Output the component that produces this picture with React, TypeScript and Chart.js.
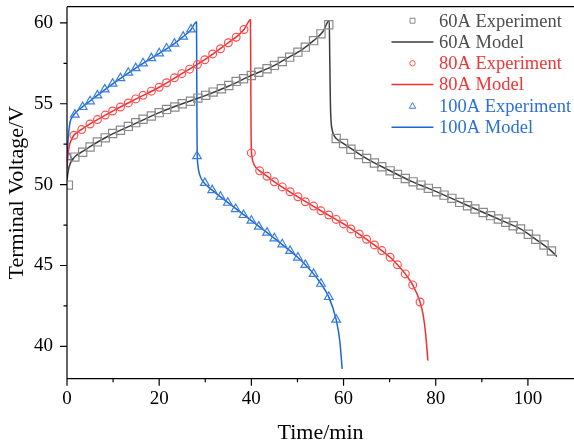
import { useEffect, useRef } from "react";
import { Chart, registerables } from "chart.js";

Chart.register(...registerables);

const FONT = "'Liberation Serif', 'Times New Roman', serif";

const X_TICKS = [0, 20, 40, 60, 80, 100];
const X_MINOR = [10, 30, 50, 70, 90];
const Y_TICKS = [40, 45, 50, 55, 60];
const Y_MINOR = [42.5, 47.5, 52.5, 57.5];

// 60A
const T60_EXP = [0.3, 1.7, 3.4, 5.0, 6.6, 8.3, 9.9, 11.6, 13.3, 14.9, 16.5, 18.3, 20.0, 21.6, 23.4, 25.0, 26.8, 28.4, 30.1, 31.7, 33.5, 35.1, 36.7, 38.3, 40.0, 41.6, 43.4, 45.0, 46.7, 48.3, 50.1, 51.7, 53.5, 55.1, 56.8,
  58.4, 60.0, 61.6, 63.3, 65.0, 66.7, 68.3, 70.1, 71.7, 73.4, 75.1, 76.8, 78.4, 80.2, 81.8, 83.5, 85.2, 86.9, 88.5, 90.3, 91.9, 93.6, 95.2, 96.8, 98.4, 100.1, 101.7, 103.5, 105.1];
const V60_EXP = [49.97, 51.7, 52.0, 52.33, 52.64, 52.89, 53.16, 53.36, 53.6, 53.83, 54.04, 54.24, 54.45, 54.65, 54.8, 55.0, 55.15, 55.35, 55.52, 55.72, 55.93, 56.13, 56.38, 56.55, 56.75, 56.95, 57.16, 57.37, 57.61, 57.88, 58.19, 58.5, 58.9, 59.32, 59.88,
  52.85, 52.54, 52.19, 51.86, 51.61, 51.34, 51.1, 50.85, 50.63, 50.38, 50.17, 49.97, 49.77, 49.56, 49.35, 49.15, 48.9, 48.69, 48.49, 48.28, 48.08, 47.87, 47.67, 47.46, 47.26, 46.93, 46.62, 46.27, 45.9];
const T60_MOD = [0, 0.3, 0.7, 1.2, 2.0, 3.4, 5, 8, 10, 15, 20, 25, 30, 35, 40, 45, 48, 51, 53.5, 55.5, 56.9, 57.0, 57.15, 57.3, 57.6, 58.0, 58.4, 60, 65, 70, 75, 80, 85, 90, 95, 98.4, 101.7, 105, 106.3];
const V60_MOD = [50.3, 50.9, 51.3, 51.55, 51.8, 52.05, 52.35, 52.85, 53.15, 53.8, 54.45, 55.0, 55.5, 56.08, 56.75, 57.37, 57.85, 58.35, 58.9, 59.45, 60.14, 58.0, 55.0, 53.9, 53.3, 53.0, 52.85, 52.54, 51.61, 50.87, 50.17, 49.58, 48.95, 48.32, 47.7, 47.26, 46.62, 45.92, 45.55];

// 80A
const T80_EXP = [1.5, 3.2, 5.0, 6.6, 8.3, 9.9, 11.6, 13.3, 14.9, 16.5, 18.3, 20.0, 21.6, 23.3, 24.9, 26.6, 28.3, 29.9, 31.6, 33.3, 35.0, 36.7, 38.4,
  40.0, 41.8, 43.4, 45.0, 46.7, 48.4, 50.1, 51.7, 53.5, 55.1, 56.8, 58.4, 60.0, 61.6, 63.4, 65.0, 66.7, 68.3, 70.1, 71.7, 73.4, 75.0, 76.6];
const V80_EXP = [53.05, 53.4, 53.75, 54.02, 54.3, 54.55, 54.8, 55.05, 55.3, 55.52, 55.78, 56.02, 56.3, 56.6, 56.86, 57.14, 57.42, 57.72, 58.08, 58.4, 58.77, 59.11, 59.59,
  51.96, 50.85, 50.52, 50.17, 49.86, 49.56, 49.25, 48.94, 48.67, 48.38, 48.12, 47.85, 47.57, 47.26, 46.95, 46.62, 46.27, 45.92, 45.51, 45.04, 44.48, 43.8, 42.74];
const T80_MOD = [0, 0.2, 0.5, 1.0, 1.5, 3, 5, 10, 15, 20, 25, 30, 35, 37, 38.5, 39.8, 39.85, 39.9, 39.95, 40.1, 40.5, 41.0, 41.8, 43.4, 45, 50, 55, 60, 65, 68.3, 70.1, 71.7, 73.4, 75, 76.6, 77.3, 77.8, 78.3];
const V80_MOD = [51.0, 51.8, 52.4, 52.8, 53.05, 53.38, 53.75, 54.56, 55.3, 56.02, 56.88, 57.74, 58.77, 59.2, 59.62, 60.2, 58.0, 55.0, 52.8, 51.8, 51.3, 51.05, 50.85, 50.52, 50.17, 49.26, 48.4, 47.57, 46.62, 45.92, 45.51, 45.04, 44.48, 43.8, 42.74, 41.9, 40.8, 39.12];

// 100A
const T100_EXP = [0.3, 1.7, 3.4, 5.0, 6.6, 8.2, 9.9, 11.6, 13.3, 14.9, 16.5, 18.3, 20.0, 21.6, 23.3, 25.2, 26.9,
  28.2, 29.9, 31.5, 33.3, 34.9, 36.6, 38.3, 40.0, 41.6, 43.4, 45.0, 46.7, 48.4, 50.1, 51.7, 53.5, 55.1, 56.8, 58.4];
const V100_EXP = [51.7, 54.33, 54.8, 55.15, 55.52, 55.89, 56.24, 56.58, 56.92, 57.2, 57.5, 57.82, 58.12, 58.42, 58.72, 59.15, 59.6,
  51.76, 50.11, 49.66, 49.25, 48.88, 48.49, 48.12, 47.77, 47.4, 47.03, 46.68, 46.31, 45.9, 45.49, 45.04, 44.48, 43.87, 43.05, 41.65];
const T100_MOD = [0, 0.15, 0.35, 0.7, 1.2, 1.7, 3.4, 5, 10, 15, 20, 23.3, 25, 26.8, 28.1, 28.15, 28.2, 28.25, 28.4, 28.8, 29.5, 31.5, 35, 40, 45, 48.4, 50.1, 51.7, 53.5, 55.1, 56.8, 58.4, 59.2, 59.7];
const V100_MOD = [51.0, 52.3, 53.2, 53.9, 54.2, 54.4, 54.82, 55.17, 56.25, 57.22, 58.12, 58.72, 59.1, 59.55, 60.05, 57.0, 53.5, 52.0, 51.2, 50.6, 50.2, 49.66, 48.87, 47.77, 46.68, 45.9, 45.49, 45.04, 44.48, 43.87, 43.05, 41.65, 40.3, 38.6];

const GRAY_EXP = "#8a8a8a";
const GRAY_LINE = "#3c3c3c";
const GRAY_TEXT = "#4d4d4d";
const RED_EXP = "#ff5050";
const RED_LINE = "#f23030";
const RED_TEXT = "#f03535";
const BLUE_EXP = "#3b7fe0";
const BLUE_LINE = "#1a66d6";
const BLUE_TEXT = "#2a6fdb";

const pts = (xs: number[], ys: number[]) => xs.map((x, i) => ({ x, y: ys[i] }));

const expSet = (label: string, xs: number[], ys: number[], color: string, style: string, r: number, textColor: string) => ({
  label,
  data: pts(xs, ys),
  showLine: false,
  pointStyle: style,
  pointRadius: r,
  pointBorderWidth: 1.2,
  pointBorderColor: color,
  pointBackgroundColor: "rgba(0,0,0,0)",
  borderColor: color,
  backgroundColor: "rgba(0,0,0,0)",
  legendText: textColor,
});

const modSet = (label: string, xs: number[], ys: number[], color: string, textColor: string) => ({
  label,
  data: pts(xs, ys),
  showLine: true,
  pointRadius: 0,
  borderWidth: 1.5,
  borderColor: color,
  backgroundColor: color,
  cubicInterpolationMode: "monotone",
  legendText: textColor,
});

const axesPlugin = {
  id: "axesDraw",
  afterDatasetsDraw(chart: any) {
    const { ctx, chartArea } = chart;
    const { left, right, top, bottom } = chartArea;
    const xs = chart.scales.x;
    const ys = chart.scales.y;
    ctx.save();
    ctx.strokeStyle = "#000";
    ctx.lineWidth = 1.2;
    ctx.beginPath();
    ctx.moveTo(left, top);
    ctx.lineTo(right, top);
    ctx.moveTo(left, top);
    ctx.lineTo(left, bottom);
    ctx.lineTo(right, bottom);
    X_TICKS.forEach((v) => {
      const p = xs.getPixelForValue(v);
      ctx.moveTo(p, bottom);
      ctx.lineTo(p, bottom + 7);
    });
    X_MINOR.forEach((v) => {
      const p = xs.getPixelForValue(v);
      ctx.moveTo(p, bottom);
      ctx.lineTo(p, bottom + 3.5);
    });
    Y_TICKS.forEach((v) => {
      const p = ys.getPixelForValue(v);
      ctx.moveTo(left, p);
      ctx.lineTo(left - 7, p);
    });
    Y_MINOR.forEach((v) => {
      const p = ys.getPixelForValue(v);
      ctx.moveTo(left, p);
      ctx.lineTo(left - 3.5, p);
    });
    ctx.stroke();
    ctx.restore();
  },
};

function drawMarker(ctx: CanvasRenderingContext2D, style: string, x: number, y: number) {
  ctx.beginPath();
  if (style === "rect") {
    ctx.rect(x - 2.5, y - 2.5, 5, 5);
  } else if (style === "circle") {
    ctx.arc(x, y, 2.7, 0, Math.PI * 2);
  } else {
    ctx.moveTo(x, y - 3.4);
    ctx.lineTo(x + 3.2, y + 2.4);
    ctx.lineTo(x - 3.2, y + 2.4);
    ctx.closePath();
  }
  ctx.stroke();
}

const legendPlugin = {
  id: "customLegend",
  afterDraw(chart: any) {
    const { ctx } = chart;
    const right = chart.chartArea.right;
    const textX = right - 135;
    const symX = textX - 26.5;
    ctx.save();
    ctx.font = `18.5px ${FONT}`;
    ctx.textBaseline = "middle";
    ctx.textAlign = "left";
    chart.data.datasets.forEach((ds: any, i: number) => {
      const y = chart.chartArea.top + 14 + i * 21.3;
      if (ds.showLine) {
        ctx.strokeStyle = ds.borderColor;
        ctx.lineWidth = 1.5;
        ctx.beginPath();
        ctx.moveTo(symX - 21, y);
        ctx.lineTo(symX + 21, y);
        ctx.stroke();
      } else {
        ctx.strokeStyle = ds.pointBorderColor;
        ctx.lineWidth = 1;
        drawMarker(ctx, ds.pointStyle, symX, y);
      }
      ctx.fillStyle = ds.legendText;
      ctx.fillText(ds.label, textX, y + 1);
    });
    ctx.restore();
  },
};

export default function App() {
  const ref = useRef<HTMLCanvasElement | null>(null);
  useEffect(() => {
    if (!ref.current) return;
    const chart = new Chart(ref.current, {
      type: "scatter",
      data: {
        datasets: [
          expSet("60A Experiment", T60_EXP, V60_EXP, GRAY_EXP, "rect", 5.8, GRAY_TEXT),
          modSet("60A Model", T60_MOD, V60_MOD, GRAY_LINE, GRAY_TEXT),
          expSet("80A Experiment", T80_EXP, V80_EXP, RED_EXP, "circle", 3.9, RED_TEXT),
          modSet("80A Model", T80_MOD, V80_MOD, RED_LINE, RED_TEXT),
          expSet("100A Experiment", T100_EXP, V100_EXP, BLUE_EXP, "triangle", 5.0, BLUE_TEXT),
          modSet("100A Model", T100_MOD, V100_MOD, BLUE_LINE, BLUE_TEXT),
        ] as any,
      },
      options: {
        animation: false,
        responsive: false,
        events: [],
        layout: { autoPadding: false, padding: { left: 0, right: 0, top: 6.7, bottom: 0 } },
        plugins: { legend: { display: false }, tooltip: { enabled: false } },
        scales: {
          x: {
            type: "linear",
            min: 0,
            max: 110,
            afterBuildTicks: (s: any) => {
              s.ticks = X_TICKS.map((v) => ({ value: v }));
            },
            afterFit: (s: any) => {
              s.height = 68.3;
              s.paddingLeft = 0;
              s.paddingRight = 0;
            },
            grid: { display: false, drawTicks: false },
            border: { display: false },
            ticks: { color: "#000", font: { family: FONT, size: 19 }, padding: 9, maxRotation: 0 },
            title: { display: true, text: "Time/min", color: "#000", font: { family: FONT, size: 22 }, padding: { top: 0, bottom: 1 } },
          },
          y: {
            type: "linear",
            min: 38,
            max: 61,
            afterBuildTicks: (s: any) => {
              s.ticks = Y_TICKS.map((v) => ({ value: v }));
            },
            afterFit: (s: any) => {
              s.width = 67;
              s.paddingTop = 0;
              s.paddingBottom = 0;
            },
            grid: { display: false, drawTicks: false },
            border: { display: false },
            ticks: { color: "#000", font: { family: FONT, size: 19 }, padding: 14 },
            title: { display: true, text: "Terminal Voltage/V", color: "#000", font: { family: FONT, size: 22 }, padding: { top: 4, bottom: 0 } },
          },
        },
      } as any,
      plugins: [axesPlugin, legendPlugin],
    });
    return () => chart.destroy();
  }, []);
  return (
    <div style={{ position: "fixed", left: 0, top: 0, width: 574, height: 447, background: "#fff" }}>
      <canvas ref={ref} width={574} height={447} style={{ display: "block" }} />
    </div>
  );
}
